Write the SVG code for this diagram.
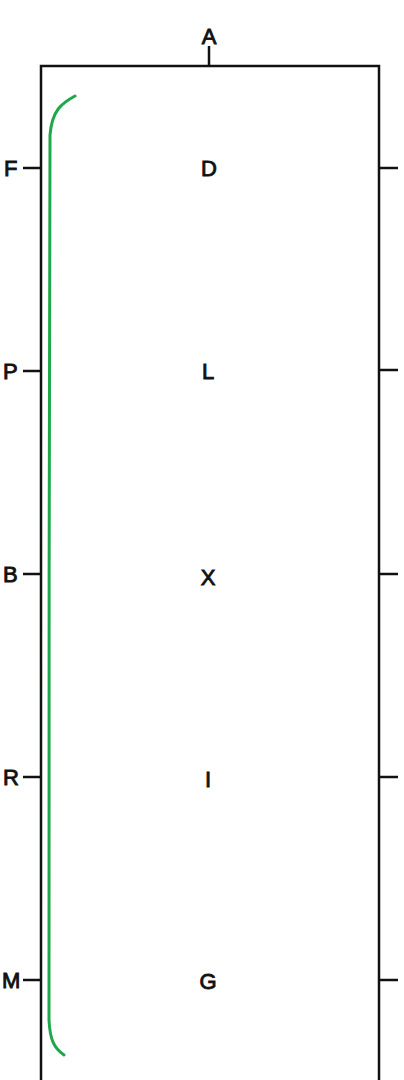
<svg xmlns="http://www.w3.org/2000/svg" width="404" height="1080" viewBox="0 0 404 1080">
<style>
.lbl{font-family:"Liberation Sans",Arial,sans-serif;font-size:22px;fill:#111;stroke:#111;stroke-width:0.9}
.c{text-anchor:middle}
.ln{stroke:#111;stroke-width:2.5;fill:none}
</style>
<rect width="404" height="1080" fill="#fff"/>
<g id="frame">
<path class="ln" d="M41,1082 V66 H379 V1082"/>
</g>
<g id="connectors">
<path class="ln" d="M209,46 V66"/>
<path class="ln" d="M23,168 H41 M23,371 H41 M23,574 H41 M23,777 H41 M23,980 H41"/>
<path class="ln" d="M379,168 H398 M379,370 H398 M379,574 H398 M379,777 H398 M379,980 H398"/>
</g>
<g id="curve">
<path d="M75,96 C62,103 52,110 50,135 C49,150 49,990 49,1020 C50,1040 54,1048 64,1055" fill="none" stroke="#1fa84b" stroke-width="3" stroke-linecap="round"/>
</g>
<g id="top-label"><text class="lbl c" x="209" y="44">A</text></g>
<g id="left-labels">
<text class="lbl" x="4" y="176">F</text>
<text class="lbl" x="3" y="379">P</text>
<text class="lbl" x="3" y="582">B</text>
<text class="lbl" x="3" y="785">R</text>
<text class="lbl" x="2" y="988">M</text>
</g>
<g id="node-D"><text class="lbl c" x="209" y="176">D</text></g>
<g id="node-L"><text class="lbl c" x="208" y="379">L</text></g>
<g id="node-X"><text class="lbl c" x="208" y="585">X</text></g>
<g id="node-I"><text class="lbl c" x="208" y="787">I</text></g>
<g id="node-G"><text class="lbl c" x="208" y="989">G</text></g>
</svg>
